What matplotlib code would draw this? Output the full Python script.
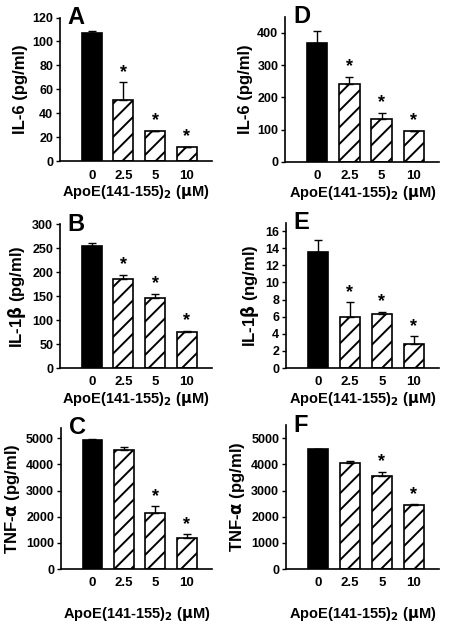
import matplotlib
matplotlib.use("Agg")
import matplotlib.pyplot as plt

plt.rcParams['font.family'] = ['Liberation Sans', 'DejaVu Sans']
plt.rcParams['font.weight'] = 'bold'
plt.rcParams['hatch.linewidth'] = 1.4

doses = ['0', '2.5', '5', '10']

il6_a = [107, 51, 25, 11.5]
il6_a_err = [2, 15, 0.3, 0.5]
il1b_b = [255, 187, 147, 75]
il1b_b_err = [7, 8, 8, 3]
tnf_c = [4920, 4560, 2150, 1200]
tnf_c_err = [50, 120, 250, 120]

il6_d = [370, 242, 132, 95]
il6_d_err = [35, 22, 20, 2]
il1b_e = [13.5, 6.0, 6.3, 2.85]
il1b_e_err = [1.5, 1.7, 0.3, 0.85]
tnf_f = [4600, 4050, 3550, 2430]
tnf_f_err = [10, 80, 170, 50]

stars_ab = [False, True, True, True]
stars_cf = [False, False, True, True]

panels = [
    # letter, values, errors, stars, ylabel, ylim, yticks, rect
    ('A', il6_a, il6_a_err, stars_ab, 'IL-6 (pg/ml)', 120, range(0, 121, 20),
     [0.133, 0.742, 0.336, 0.230]),
    ('D', il6_d, il6_d_err, stars_ab, 'IL-6 (pg/ml)', 450, range(0, 401, 100),
     [0.631, 0.741, 0.341, 0.232]),
    ('B', il1b_b, il1b_b_err, stars_ab, r'IL-1$\mathbf{\beta}$ (pg/ml)', 300, range(0, 301, 50),
     [0.133, 0.411, 0.336, 0.230]),
    ('E', il1b_e, il1b_e_err, stars_ab, r'IL-1$\mathbf{\beta}$ (ng/ml)', 17, range(0, 17, 2),
     [0.633, 0.411, 0.339, 0.233]),
    ('C', tnf_c, tnf_c_err, stars_cf, r'TNF-$\mathbf{\alpha}$ (pg/ml)', 5400, range(0, 5001, 1000),
     [0.135, 0.0896, 0.334, 0.226]),
    ('F', tnf_f, tnf_f_err, stars_cf, r'TNF-$\mathbf{\alpha}$ (pg/ml)', 5500, range(0, 5001, 1000),
     [0.633, 0.0896, 0.339, 0.230]),
]

fig = plt.figure(figsize=(4.52, 6.25), dpi=100)

for letter, vals, errs, stars, ylab, ytop, yt, rect in panels:
    ax = fig.add_axes(rect)
    x = list(range(len(vals)))
    colors = ['black', 'white', 'white', 'white']
    hatches = ['', '//', '//', '//']
    for i in x:
        ax.bar(i, vals[i], width=0.63, color=colors[i], edgecolor='black',
               linewidth=1.2, hatch=hatches[i], zorder=2)
        ax.errorbar(i, vals[i], yerr=[[0], [errs[i]]], color='black',
                    capsize=3, elinewidth=1, capthick=1, zorder=3)
        if stars[i]:
            ax.text(i, vals[i] + errs[i] + ytop * 0.01, '*', ha='center', va='bottom',
                    fontsize=13, fontweight='bold')
    ax.set_xlim(-1, 3.8)
    ax.set_ylim(0, ytop)
    ax.set_yticks(list(yt))
    ax.set_xticks(x)
    ax.set_xticklabels(doses)
    ax.tick_params(axis='x', length=0, labelsize=9.5, pad=6)
    ax.tick_params(axis='y', length=3, width=1, labelsize=9, pad=2)
    for lab in ax.get_xticklabels() + ax.get_yticklabels():
        lab.set_fontweight('bold')
    ax.spines['top'].set_visible(False)
    ax.spines['right'].set_visible(False)
    ax.spines['left'].set_linewidth(1.2)
    ax.spines['bottom'].set_linewidth(1.2)
    ax.set_ylabel(ylab, fontsize=12, fontweight='bold', labelpad=3)
    lp = 11 if letter in ('C', 'F') else 1
    ax.set_xlabel(r'ApoE(141-155)$_\mathbf{2}$ ($\mathbf{\mu}$M)', fontsize=10.5,
                  fontweight='bold', labelpad=lp)
    ax.text(0.05, 1.0, letter, transform=ax.transAxes, fontsize=17,
            fontweight='bold', ha='left', va='center')

fig.savefig('out.png', dpi=100)
